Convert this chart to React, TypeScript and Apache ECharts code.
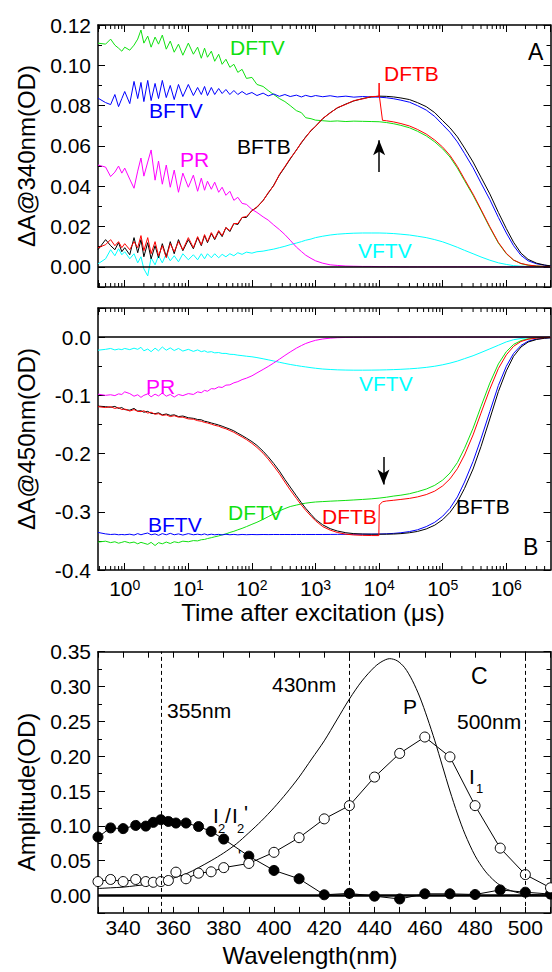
import React, { useEffect, useRef } from 'react';
import * as echarts from 'echarts';

const FONT = '"Liberation Sans", Arial, Helvetica, sans-serif';
const GREEN = '#10e010';
const BLUE = '#0000ff';
const MAGENTA = '#ff00ff';
const CYAN = '#00ffff';
const RED = '#ff0000';
const BLACK = '#000000';

// time (µs) grid shared by panels A and B
const T = [
  0.38, 0.5, 0.6, 0.7, 0.8, 0.9,
  1, 1.2, 1.4, 1.6, 1.8, 2, 2.3, 2.6, 3, 3.4, 3.9, 4.5, 5.2, 6, 7, 8.2,
  10, 12, 14, 16, 18, 20, 23, 26, 30, 34, 39, 45, 52, 60, 70, 82,
  100, 120, 150, 180, 220, 270, 330, 400, 500, 600, 700, 850,
  1e3, 1.3e3, 1.7e3, 2.2e3, 3e3, 4e3, 5.5e3, 7.5e3,
  1e4, 1.3e4, 1.7e4, 2.2e4, 3e4, 4e4, 5.5e4, 7.5e4,
  1e5, 1.3e5, 1.7e5, 2.2e5, 3e5, 4e5, 5.5e5, 7.5e5,
  1e6, 1.3e6, 1.7e6, 2.2e6, 3e6, 4e6, 4.95e6,
];

// Panel A: ΔA @ 340 nm
const A_DFTV = [
  0.111, 0.1105, 0.113, 0.110, 0.1085, 0.107,
  0.109, 0.1075, 0.110, 0.113, 0.1175, 0.111, 0.1145, 0.109, 0.114, 0.1105, 0.115, 0.108, 0.112, 0.1065, 0.1105, 0.105,
  0.111, 0.1055, 0.109, 0.1035, 0.1085, 0.104, 0.107, 0.102, 0.1055, 0.1005, 0.103, 0.099, 0.1005, 0.0965, 0.098, 0.0935,
  0.094, 0.0905, 0.0895, 0.0875, 0.0855, 0.0835, 0.082, 0.080, 0.0775, 0.0765, 0.074, 0.0735,
  0.0728, 0.0725, 0.0722, 0.0724, 0.0721, 0.0723, 0.0722, 0.0721,
  0.0720, 0.0716, 0.0710, 0.0702, 0.0690, 0.0673, 0.0650, 0.0620,
  0.0585, 0.0545, 0.0490, 0.0428, 0.0355, 0.0280, 0.0195, 0.0118,
  0.0065, 0.0033, 0.0016, 0.0008, 0.0004, 0.0002, 0.0001,
];
const A_BFTV = [
  0.0837, 0.0815, 0.0805, 0.0855, 0.0795, 0.0835,
  0.087, 0.081, 0.092, 0.0835, 0.0915, 0.082, 0.0925, 0.0825, 0.091, 0.0835, 0.0925, 0.084, 0.090, 0.083, 0.0905, 0.0845,
  0.0905, 0.085, 0.089, 0.0855, 0.0895, 0.085, 0.089, 0.0855, 0.0885, 0.086, 0.088, 0.0855, 0.0875, 0.0855, 0.087, 0.0855,
  0.0865, 0.085, 0.0862, 0.0848, 0.0858, 0.0846, 0.0855, 0.0845, 0.0852, 0.0843, 0.0851, 0.0844,
  0.085, 0.0844, 0.0849, 0.0843, 0.0847, 0.0842, 0.0845, 0.0843,
  0.0842, 0.0839, 0.0834, 0.0827, 0.0817, 0.0800, 0.0778, 0.0746,
  0.0705, 0.0668, 0.0620, 0.0563, 0.0492, 0.0416, 0.0334, 0.0245,
  0.0168, 0.0105, 0.0057, 0.0030, 0.0015, 0.0008, 0.0004,
];
const A_BFTB = [
  0.0085, 0.0135, 0.0105, 0.0085, 0.012, 0.0075,
  0.0095, 0.006, 0.0145, 0.007, 0.0135, 0.005, 0.012, 0.004, 0.0105, 0.0045, 0.0115, 0.005, 0.0125, 0.0065, 0.0135, 0.008,
  0.0135, 0.009, 0.0145, 0.0105, 0.0155, 0.012, 0.0165, 0.0135, 0.0175, 0.015, 0.0195, 0.0175, 0.0215, 0.021, 0.0245, 0.0245,
  0.028, 0.0295, 0.033, 0.0365, 0.0405, 0.0455, 0.0495, 0.0535, 0.058, 0.0615, 0.0645, 0.0675,
  0.0698, 0.0735, 0.0765, 0.0788, 0.0808, 0.0823, 0.0835, 0.0843,
  0.0847, 0.0846, 0.0843, 0.0838, 0.0830, 0.0815, 0.0795, 0.0765,
  0.0725, 0.0690, 0.0645, 0.0590, 0.0520, 0.0445, 0.0362, 0.0270,
  0.0190, 0.0122, 0.0068, 0.0037, 0.0018, 0.0009, 0.0005,
];
const A_DFTB = [
  0.0095, 0.011, 0.0135, 0.0105, 0.0125, 0.0095,
  0.0115, 0.0085, 0.0125, 0.0095, 0.0155, 0.008, 0.0145, 0.0065, 0.0125, 0.0055, 0.0105, 0.0045, 0.0115, 0.0075, 0.0125, 0.0085,
  0.0145, 0.0095, 0.015, 0.011, 0.016, 0.0125, 0.017, 0.014, 0.018, 0.0155, 0.0195, 0.018, 0.0215, 0.0215, 0.0245, 0.025,
  0.0278, 0.0298, 0.0328, 0.0368, 0.0402, 0.0458, 0.0498, 0.0538, 0.0578, 0.0618, 0.0642, 0.0678,
  0.0696, 0.0737, 0.0763, 0.079, 0.0806, 0.0825, 0.0833, 0.0845,
  null, 0.0725, 0.0719, 0.0711, 0.0699, 0.0682, 0.0659, 0.0629,
  0.0594, 0.0553, 0.0498, 0.0435, 0.0361, 0.0285, 0.0199, 0.0121,
  0.0067, 0.0034, 0.0017, 0.0009, 0.0004, 0.0002, 0.0001,
];
const A_DFTB_JUMP_T = [9900, 10000, 10100, 11300];
const A_DFTB_JUMP_V = [0.0846, 0.0912, 0.0846, 0.0727];
const A_PR = [
  0.0505, 0.0495, 0.0448, 0.047, 0.050, 0.0465,
  0.049, 0.0435, 0.039, 0.0475, 0.054, 0.045, 0.052, 0.058, 0.043, 0.0525, 0.041, 0.0505, 0.0395, 0.048, 0.037, 0.0465,
  0.0395, 0.0455, 0.0375, 0.044, 0.038, 0.0425, 0.0385, 0.042, 0.037, 0.0395, 0.0355, 0.0375, 0.033, 0.0345, 0.0315, 0.031,
  0.0285, 0.027, 0.0248, 0.0232, 0.0208, 0.0185, 0.016, 0.0132, 0.0098, 0.0076, 0.0058, 0.0042,
  0.003, 0.0018, 0.001, 0.0007, 0.0004, 0.0003, 0.0002, 0.0002,
  0.0001, 0.0001, 0.0001, 0, 0, 0, 0, 0,
  0, 0, 0, 0, 0, 0, 0, 0,
  0, 0, 0, 0, 0, 0, 0,
];
const A_VFTV = [
  0.0015, 0.004, 0.0085, 0.0055, 0.009, 0.006,
  0.0075, 0.004, 0.0065, 0.002, 0.005, -0.001, -0.0045, 0.0045, 0.001, 0.0055, 0.002, 0.0065, 0.003, 0.0055, 0.0025, 0.0065,
  0.0035, 0.006, 0.0035, 0.0065, 0.004, 0.0065, 0.0045, 0.0065, 0.0045, 0.0062, 0.005, 0.0065, 0.0055, 0.007, 0.0062, 0.0073,
  0.0068, 0.0075, 0.0078, 0.0083, 0.0088, 0.0095, 0.0102, 0.011, 0.0118, 0.0125, 0.0132, 0.0138,
  0.0145, 0.0152, 0.0158, 0.0162, 0.0165, 0.0167, 0.0168, 0.0168,
  0.0168, 0.0167, 0.0165, 0.0162, 0.0158, 0.0152, 0.0145, 0.0135,
  0.0124, 0.0111, 0.0097, 0.0082, 0.0065, 0.0049, 0.0033, 0.002,
  0.0012, 0.0006, 0.0003, 0.0002, 0.0001, 0.0001, 0,
];
const A_ARROW_T = [1e4, 1e4];
const A_ARROW_V = [0.047, 0.0628];

// Panel B: ΔA @ 450 nm
const B_VFTV = [
  -0.0225, -0.021, -0.0195, -0.022, -0.0205, -0.0215,
  -0.0195, -0.0215, -0.019, -0.021, -0.0175, -0.0235, -0.0205, -0.025, -0.019, -0.0235, -0.017, -0.0225, -0.0185, -0.023, -0.0195, -0.024,
  -0.021, -0.0245, -0.022, -0.025, -0.0235, -0.026, -0.025, -0.027, -0.0265, -0.028, -0.028, -0.0295, -0.0298, -0.031, -0.0318, -0.0328,
  -0.0338, -0.0352, -0.0372, -0.039, -0.041, -0.0432, -0.0452, -0.047, -0.0488, -0.0502, -0.0512, -0.0525,
  -0.0535, -0.0548, -0.0556, -0.0562, -0.0566, -0.0568, -0.0568, -0.0567,
  -0.0565, -0.0562, -0.0558, -0.0553, -0.0545, -0.0535, -0.052, -0.050,
  -0.0475, -0.0447, -0.0412, -0.037, -0.032, -0.0265, -0.0202, -0.014,
  -0.0082, -0.0045, -0.0024, -0.0012, -0.0006, -0.0003, -0.0002,
];
const B_PR = [
  -0.098, -0.1, -0.099, -0.1005, -0.0975, -0.0985,
  -0.094, -0.097, -0.1015, -0.099, -0.1035, -0.1, -0.0975, -0.1025, -0.098, -0.101, -0.096, -0.1015, -0.0985, -0.103, -0.0985, -0.1005,
  -0.097, -0.0985, -0.094, -0.0955, -0.0915, -0.093, -0.0885, -0.089, -0.0855, -0.0865, -0.0825, -0.082, -0.0785, -0.0765, -0.073, -0.0705,
  -0.0665, -0.0615, -0.0555, -0.0505, -0.0445, -0.038, -0.0315, -0.0255, -0.019, -0.0145, -0.011, -0.0078,
  -0.0055, -0.0032, -0.0018, -0.001, -0.0006, -0.0004, -0.0003, -0.0002,
  -0.0002, -0.0001, -0.0001, -0.0001, 0, 0, 0, 0,
  0, 0, 0, 0, 0, 0, 0, 0,
  0, 0, 0, 0, 0, 0, 0,
];
const B_BFTB = [
  -0.1185, -0.1195, -0.1205, -0.119, -0.1225, -0.121,
  -0.1245, -0.1255, -0.1225, -0.127, -0.1265, -0.129, -0.1275, -0.131, -0.1315, -0.13, -0.1335, -0.132, -0.1345, -0.1335, -0.1365, -0.1355,
  -0.1385, -0.1395, -0.1415, -0.142, -0.1445, -0.1455, -0.1475, -0.149, -0.151, -0.153, -0.1555, -0.158, -0.161, -0.165, -0.169, -0.1735,
  -0.1795, -0.186, -0.196, -0.2055, -0.217, -0.23, -0.2445, -0.2575, -0.2725, -0.2845, -0.294, -0.3045,
  -0.313, -0.3225, -0.329, -0.333, -0.336, -0.3375, -0.3382, -0.3385,
  -0.3385, -0.3385, -0.3382, -0.3375, -0.336, -0.3338, -0.3295, -0.323,
  -0.3135, -0.301, -0.2835, -0.26, -0.2265, -0.188, -0.1405, -0.0935,
  -0.058, -0.033, -0.017, -0.0085, -0.004, -0.002, -0.0012,
];
const B_DFTB = [
  -0.1195, -0.121, -0.1195, -0.1225, -0.121, -0.1245,
  -0.1235, -0.127, -0.1245, -0.1275, -0.128, -0.1265, -0.1305, -0.129, -0.1325, -0.1315, -0.1345, -0.1335, -0.1365, -0.135, -0.1375, -0.1375,
  -0.1405, -0.141, -0.1435, -0.1445, -0.1465, -0.1475, -0.1495, -0.1515, -0.153, -0.1555, -0.1575, -0.1605, -0.1635, -0.1675, -0.1715, -0.176,
  -0.1825, -0.1895, -0.1995, -0.2095, -0.2215, -0.2345, -0.249, -0.2625, -0.277, -0.2885, -0.2975, -0.3075,
  -0.3155, -0.3255, -0.3315, -0.3355, -0.3385, -0.3398, -0.3405, -0.3408,
  null, -0.2815, -0.2802, -0.2788, -0.277, -0.2745, -0.2705, -0.2645,
  -0.2555, -0.2435, -0.226, -0.2025, -0.168, -0.1305, -0.0895, -0.054,
  -0.0305, -0.0158, -0.0075, -0.0037, -0.0016, -0.0008, -0.0005,
];
const B_DFTB_JUMP_T = [9900, 10050, 11300];
const B_DFTB_JUMP_V = [-0.3409, -0.2885, -0.2828];
const B_DFTV = [
  -0.352, -0.3505, -0.353, -0.3515, -0.354, -0.3525,
  -0.351, -0.3535, -0.352, -0.355, -0.3525, -0.354, -0.356, -0.3525, -0.358, -0.353, -0.355, -0.352, -0.3545, -0.3515, -0.353, -0.3505,
  -0.3515, -0.3495, -0.35, -0.348, -0.3475, -0.346, -0.3445, -0.343, -0.3415, -0.3395, -0.338, -0.3355, -0.3335, -0.331, -0.3285, -0.3255,
  -0.3215, -0.318, -0.313, -0.3085, -0.3035, -0.2985, -0.2945, -0.291, -0.2885, -0.2865, -0.2852, -0.284,
  -0.2832, -0.2825, -0.2818, -0.2812, -0.2805, -0.2797, -0.2788, -0.2778,
  -0.2765, -0.275, -0.273, -0.2715, -0.269, -0.2655, -0.261, -0.2545,
  -0.2455, -0.2335, -0.2155, -0.191, -0.1565, -0.119, -0.079, -0.046,
  -0.025, -0.0125, -0.006, -0.003, -0.0013, -0.0006, -0.0004,
];
const B_BFTV = [
  -0.3355, -0.338, -0.339, -0.3385, -0.3395, -0.339,
  -0.3395, -0.3385, -0.34, -0.3375, -0.3395, -0.338, -0.3365, -0.3395, -0.338, -0.3405, -0.3375, -0.3395, -0.337, -0.3395, -0.338, -0.34,
  -0.3375, -0.3395, -0.3385, -0.3395, -0.338, -0.3398, -0.3385, -0.3395, -0.3388, -0.3397, -0.3386, -0.3395, -0.3388, -0.3396, -0.3389, -0.3394,
  -0.339, -0.3393, -0.339, -0.3392, -0.339, -0.3391, -0.339, -0.3391, -0.339, -0.339, -0.339, -0.339,
  -0.339, -0.339, -0.3389, -0.3388, -0.3387, -0.3386, -0.3385, -0.3384,
  -0.3382, -0.3378, -0.3371, -0.336, -0.334, -0.331, -0.3255, -0.318,
  -0.3075, -0.294, -0.2745, -0.249, -0.2135, -0.1745, -0.128, -0.083,
  -0.050, -0.028, -0.0143, -0.0071, -0.0033, -0.0017, -0.001,
];
const B_ARROW_T = [1.17e4, 1.17e4];
const B_ARROW_V = [-0.206, -0.253];

// Panel C: amplitude spectra
const C_W = [330, 335, 340, 345, 349, 352, 355, 358, 361, 365, 370, 375, 380, 390, 400, 410, 420, 430, 440, 450, 460, 470, 480, 490, 500, 510];
const C_I1 = [0.020, 0.023, 0.020, 0.023, 0.020, 0.019, 0.020, 0.0215, 0.0335, 0.024, 0.032, 0.034, 0.040, 0.046, 0.062, 0.083, 0.110, 0.129, 0.170, 0.204, 0.2275, 0.199, 0.129, 0.068, 0.030, 0.011];
const C_I2 = [0.084, 0.097, 0.096, 0.1006, 0.0996, 0.105, 0.1088, 0.1063, 0.104, 0.104, 0.099, 0.092, 0.081, 0.0565, 0.036, 0.024, 0.001, 0.003, -0.001, -0.005, 0.0024, 0.0024, 0.0014, 0.008, 0.0047, 0.002];
const C_PW = [330, 335, 340, 345, 350, 355, 360, 365, 370, 375, 380, 385, 390, 395, 400, 405, 410, 415, 420, 425, 430, 435, 440, 443, 446, 449, 452, 455, 458, 461, 464, 467, 470, 473, 476, 480, 484, 488, 492, 496, 500, 505, 510];
const C_PV = [0.010, 0.011, 0.012, 0.014, 0.016, 0.019, 0.025, 0.031, 0.040, 0.050, 0.061, 0.074, 0.090, 0.107, 0.126, 0.147, 0.170, 0.196, 0.222, 0.252, 0.282, 0.308, 0.328, 0.336, 0.340, 0.337, 0.327, 0.309, 0.285, 0.255, 0.222, 0.186, 0.150, 0.117, 0.088, 0.057, 0.035, 0.020, 0.010, 0.005, 0.002, 0.001, 0.001];
const C_DASHED = [355, 430, 500];

const X_MIN = 0.38;
const X_MAX = 4.95e6;

const pairs = (ts: number[], vs: (number | null)[]) =>
  ts.map((t, i) => [t, vs[i]]).filter((p) => p[1] !== null) as number[][];
const withJump = (ts: number[], vs: (number | null)[], jt: number[], jv: number[]) =>
  [...pairs(ts, vs), ...jt.map((t, i) => [t, jv[i]])].sort((a, b) => a[0] - b[0]);

function buildOption() {
  const minorLog: number[][] = [];
  for (let e = -1; e <= 6; e++) {
    for (let k = 2; k <= 9; k++) {
      const v = k * Math.pow(10, e);
      if (v > X_MIN && v < X_MAX) minorLog.push([v]);
    }
  }
  const minorTickSeries = (xi: number, yi: number, yv: number) => ({
    type: 'custom',
    xAxisIndex: xi,
    yAxisIndex: yi,
    silent: true,
    data: minorLog.map((d) => [d[0], yv]),
    encode: { x: 0, y: 1 },
    renderItem: (params: any, api: any) => {
      const cs = params.coordSys;
      const px = api.coord([api.value(0), api.value(1)])[0];
      const yb = cs.y + cs.height;
      const yt = cs.y;
      return {
        type: 'group',
        children: [
          { type: 'line', shape: { x1: px, y1: yb, x2: px, y2: yb - 4 }, style: { stroke: BLACK, lineWidth: 1 } },
          { type: 'line', shape: { x1: px, y1: yt, x2: px, y2: yt + 4 }, style: { stroke: BLACK, lineWidth: 1 } },
        ],
      };
    },
  });

  const axisLine = { show: true, onZero: false, lineStyle: { color: BLACK, width: 1.5 } };
  const tick = { show: true, inside: true, length: 7, lineStyle: { color: BLACK, width: 1 } };
  const minor = { show: true, splitNumber: 2, length: 4, lineStyle: { color: BLACK, width: 1 } };
  const lbl = { fontSize: 21, fontFamily: FONT, color: BLACK };

  const logAxis = (gridIndex: number, position: string, labels: boolean) => ({
    type: 'log',
    gridIndex,
    position,
    min: X_MIN,
    max: X_MAX,
    logBase: 10,
    axisLine,
    axisTick: tick,
    splitLine: { show: false },
    axisLabel: labels
      ? {
          show: true,
          margin: 8,
          showMinLabel: false,
          showMaxLabel: false,
          formatter: (v: number) => `{b|10}{s|${Math.round(Math.log10(v))}}`,
          rich: {
            b: { fontSize: 21, fontFamily: FONT, color: BLACK, lineHeight: 20 },
            s: { fontSize: 14, fontFamily: FONT, color: BLACK, verticalAlign: 'top', lineHeight: 12 },
          },
        }
      : { show: false },
  });

  const valAxisY = (
    gridIndex: number, position: string, labels: boolean, min: number, max: number,
    split: number, dec: number, showMin: boolean, showMax: boolean,
  ) => ({
    type: 'value',
    gridIndex,
    position,
    min,
    max,
    splitNumber: split,
    axisLine,
    axisTick: tick,
    minorTick: minor,
    splitLine: { show: false },
    axisLabel: labels
      ? { show: true, margin: 7, showMinLabel: showMin, showMaxLabel: showMax, formatter: (v: number) => v.toFixed(dec), ...lbl }
      : { show: false },
  });

  const line = (name: string, data: number[][], color: string, xi: number, yi: number, extra: any = {}) => ({
    type: 'line',
    name,
    xAxisIndex: xi,
    yAxisIndex: yi,
    data,
    showSymbol: false,
    symbol: 'none',
    lineStyle: { color, width: 1 },
    itemStyle: { color },
    silent: true,
    ...extra,
  });

  const zeroLine = (width: number) => ({
    silent: true,
    symbol: 'none',
    label: { show: false },
    lineStyle: { color: BLACK, width, type: 'solid' },
    data: [{ yAxis: 0 }],
  });

  const arrow = (ts: number[], vs: number[]) => ({
    silent: true,
    symbol: ['none', 'arrow'],
    symbolSize: [9, 15],
    label: { show: false },
    lineStyle: { color: BLACK, width: 1.5, type: 'solid' },
    itemStyle: { color: BLACK },
    data: [[{ coord: [ts[0], vs[0]] }, { coord: [ts[1], vs[1]] }]],
  });

  const txt = (text: string, x: number, y: number, color: string, size = 21) => ({
    type: 'text',
    x,
    y,
    silent: true,
    style: { text, fill: color, fontSize: size, fontFamily: FONT, verticalAlign: 'middle', align: 'left' },
  });

  const title = (text: string, x: number, y: number, rotated: boolean) => ({
    type: 'text',
    x,
    y,
    rotation: rotated ? Math.PI / 2 : 0,
    silent: true,
    style: { text, fill: BLACK, fontSize: 24, fontFamily: FONT, verticalAlign: 'middle', align: 'center' },
  });

  return {
    animation: false,
    backgroundColor: '#ffffff',
    grid: [
      { left: 98, top: 25, width: 452.5, height: 262 },
      { left: 98, top: 308, width: 452.5, height: 262 },
      { left: 98, top: 651.7, width: 452.5, height: 261.2 },
    ],
    xAxis: [
      logAxis(0, 'bottom', false),
      logAxis(0, 'top', false),
      logAxis(1, 'bottom', true),
      logAxis(1, 'top', false),
      {
        type: 'value', gridIndex: 2, position: 'bottom', min: 330, max: 510, splitNumber: 9,
        axisLine, axisTick: { ...tick, length: 6 }, minorTick: { ...minor, length: 6 }, splitLine: { show: false },
        axisLabel: { show: true, margin: 4, showMinLabel: false, showMaxLabel: false, ...lbl },
      },
      {
        type: 'value', gridIndex: 2, position: 'top', min: 330, max: 510, splitNumber: 9,
        axisLine, axisTick: { ...tick, length: 6 }, minorTick: { ...minor, length: 6 }, splitLine: { show: false },
        axisLabel: { show: false },
      },
    ],
    yAxis: [
      valAxisY(0, 'left', true, -0.01, 0.12, 6, 2, false, true),
      valAxisY(0, 'right', false, -0.01, 0.12, 6, 2, false, false),
      valAxisY(1, 'left', true, -0.4, 0.05, 5, 1, true, false),
      valAxisY(1, 'right', false, -0.4, 0.05, 5, 1, false, false),
      valAxisY(2, 'left', true, -0.025, 0.35, 7, 2, false, true),
      valAxisY(2, 'right', false, -0.025, 0.35, 7, 2, false, false),
    ],
    series: [
      // Panel A
      line('VFTV', pairs(T, A_VFTV), CYAN, 0, 0, { markLine: zeroLine(1.5) }),
      line('PR', pairs(T, A_PR), MAGENTA, 0, 0),
      line('DFTV', pairs(T, A_DFTV), GREEN, 0, 0),
      line('BFTV', pairs(T, A_BFTV), BLUE, 0, 0),
      line('BFTB', pairs(T, A_BFTB), BLACK, 0, 0, { markLine: arrow(A_ARROW_T, A_ARROW_V) }),
      line('DFTB', withJump(T, A_DFTB, A_DFTB_JUMP_T, A_DFTB_JUMP_V), RED, 0, 0),
      minorTickSeries(0, 0, 0.05),
      // Panel B
      line('VFTV', pairs(T, B_VFTV), CYAN, 2, 2, { markLine: zeroLine(1.5) }),
      line('PR', pairs(T, B_PR), MAGENTA, 2, 2),
      line('DFTV', pairs(T, B_DFTV), GREEN, 2, 2),
      line('BFTV', pairs(T, B_BFTV), BLUE, 2, 2),
      line('BFTB', pairs(T, B_BFTB), BLACK, 2, 2, { markLine: arrow(B_ARROW_T, B_ARROW_V) }),
      line('DFTB', withJump(T, B_DFTB, B_DFTB_JUMP_T, B_DFTB_JUMP_V), RED, 2, 2),
      minorTickSeries(2, 2, -0.2),
      // Panel C
      line('P', pairs(C_PW, C_PV), BLACK, 4, 4, {
        smooth: 0.3,
        markLine: {
          silent: true,
          symbol: 'none',
          label: { show: false },
          lineStyle: { color: BLACK, width: 1, type: [4, 3] },
          data: C_DASHED.map((w) => ({ xAxis: w })),
        },
      }),
      line('I2/I2\'', pairs(C_W, C_I2), BLACK, 4, 4, {
        showSymbol: true,
        symbol: 'circle',
        symbolSize: 10,
        itemStyle: { color: BLACK, borderColor: BLACK, borderWidth: 1 },
        markLine: zeroLine(2.5),
      }),
      line('I1', pairs(C_W, C_I1), BLACK, 4, 4, {
        showSymbol: true,
        symbol: 'circle',
        symbolSize: 10,
        itemStyle: { color: '#ffffff', borderColor: BLACK, borderWidth: 1 },
      }),
    ],
    graphic: [
      // axis titles
      title('ΔA@340nm(OD)', 26, 156, true),
      title('ΔA@450nm(OD)', 26, 439, true),
      title('Amplitude(OD)', 26, 792, true),
      title('Time after excitation (μs)', 313, 612, false),
      title('Wavelength(nm)', 310, 955, false),
      // Panel A labels
      txt('DFTV', 230, 47, GREEN),
      txt('BFTV', 149, 110, BLUE),
      txt('PR', 180, 159, MAGENTA),
      txt('BFTB', 237, 146, BLACK),
      txt('DFTB', 384, 73, RED),
      txt('VFTV', 358, 250, CYAN),
      txt('A', 528, 52, BLACK, 23),
      // Panel B labels
      txt('PR', 146, 386, MAGENTA),
      txt('VFTV', 359, 383, CYAN),
      txt('BFTV', 148, 524, BLUE),
      txt('DFTV', 228, 512, GREEN),
      txt('DFTB', 322, 516, RED),
      txt('BFTB', 456, 506, BLACK),
      txt('B', 523, 547, BLACK, 23),
      // Panel C labels
      txt('355nm', 167, 710, BLACK),
      txt('430nm', 272, 684, BLACK),
      txt('P', 403, 706, BLACK),
      txt('500nm', 457, 721, BLACK),
      txt('C', 471, 676, BLACK, 23),
      txt('I', 469, 776, BLACK),
      txt('1', 476, 788, BLACK, 13),
      txt('I', 213, 815, BLACK),
      txt('2', 218, 828, BLACK, 13),
      txt('/', 225, 815, BLACK),
      txt('I', 232, 815, BLACK),
      txt('2', 237, 828, BLACK, 13),
      txt("'", 244, 812, BLACK),
      txt("'", 238, 856, BLACK, 16),
    ],
  };
}

export default function App() {
  const ref = useRef<HTMLDivElement>(null);
  useEffect(() => {
    document.body.style.margin = '0';
    const chart = echarts.init(ref.current as HTMLDivElement, null, { renderer: 'svg', width: 552, height: 972 });
    chart.setOption(buildOption() as any);
    return () => chart.dispose();
  }, []);
  return (
    <div
      ref={ref}
      style={{ position: 'absolute', left: 0, top: 0, width: 552, height: 972, background: '#ffffff' }}
    />
  );
}
